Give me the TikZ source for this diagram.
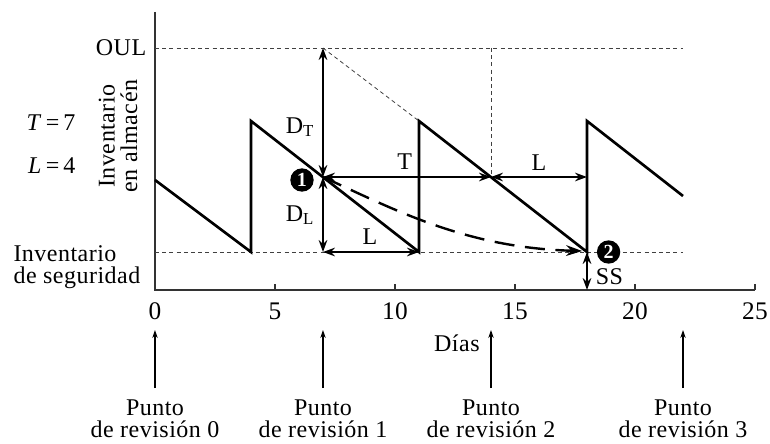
\documentclass[tikz,border=0pt]{standalone}
\usepackage{fontspec}
\setmainfont{Liberation Serif}[LetterSpace=2]
\usetikzlibrary{arrows.meta, positioning}

\begin{document}
\begin{tikzpicture}[
  x=18pt, y=0.75pt,
  font=\fontsize{18}{16.8}\selectfont,
  stock/.style ={line width=2pt, line join=miter},
  guide/.style ={line width=0.6pt, dash pattern=on 3pt off 2.4pt, black!75},
  dim/.style   ={{Stealth[length=9pt,width=6.5pt]}-{Stealth[length=9pt,width=6.5pt]}, line width=1.1pt},
  flow/.style  ={-{Stealth[length=12pt,width=8pt]}, line width=1.8pt, dash pattern=on 15pt off 8pt},
  review/.style={-{Stealth[length=6pt,width=4pt]}, line width=0.8pt},
  badge/.style ={circle, fill=black, text=white, inner sep=0pt, minimum size=17.5pt,
                 font=\bfseries\fontsize{15}{15}\selectfont},
  lbl/.style   ={inner sep=1pt},
]
  \useasboundingbox (-6.458,-153) rectangle (25.625,290);

  % axes
  \coordinate (o)    at (0,0);
  \coordinate (ytop) at (0,278);
  \coordinate (xend) at (25,0);
  \draw[line width=1pt, black!80] (ytop) -- (o) -- (xend);
  \foreach \t in {0,5,...,25}{
    \draw[line width=0.8pt, black!80] (\t,0) -- (\t,6);
    \node[lbl, font=\fontsize{19}{19}\selectfont] (tick\t) at (\t,-21) {\t};
  }
  \node[lbl] (dias) at (12.58,-53) {Días};

  % key points
  \coordinate (oul0) at (0,242);
  \coordinate (oul7) at (7,242);
  \coordinate (oul14) at (14,242);
  \coordinate (oul22) at (22,242);
  \coordinate (ss0)  at (0,38);
  \coordinate (ss7)  at (7,38);
  \coordinate (ss11) at (11,38);
  \coordinate (ss18) at (18,38);
  \coordinate (ss22) at (22,38);
  \coordinate (top11) at (11,169);
  \coordinate (p1)   at (7,113);
  \coordinate (p14)  at (14,113);
  \coordinate (p18)  at (18,113);
  \coordinate (ax18) at (18,0);
  \coordinate (tip)  at (17.8,39);

  % guide lines
  \draw[guide] (oul0) -- (oul22);
  \draw[guide] (ss0) -- (ss22);
  \draw[guide] (oul7) -- (top11);
  \draw[guide] (oul14) -- (p14);

  % inventory on hand
  \draw[stock] (0,110) -- (4,38) -- (4,169) -- (11,38) -- (11,169) -- (18,38) -- (18,169) -- (22,94);

  % dimensions
  \draw[dim] (oul7) -- (p1);
  \draw[dim] (p1) -- (ss7);
  \draw[dim] (ss7) -- (ss11);
  \draw[dim] (p1) -- (p14);
  \draw[dim] (p14) -- (p18);
  \draw[dim] (ss18) -- (ax18);
  \draw[flow] (p1) .. controls (10,80) and (13,42) .. (tip);

  \node[lbl] (dt)  at (6.04,163) {D\textsubscript{T}};
  \node[lbl] (dl)  at (6.04,75)  {D\textsubscript{L}};
  \node[lbl] (lt)  at (10.4,128) {T};
  \node[lbl] (ll)  at (16.0,127) {L};
  \node[lbl] (lb)  at (8.96,53)  {L};
  \node[lbl, anchor=west] (ss) at (18.3,13) {SS};

  \node[badge] (b1) at (6.125,110) {1};
  \node[badge] (b2) at (18.9,38)   {2};

  % left labels
  \node[lbl, anchor=east] (oul) at (-0.3,242) {OUL};
  \node[lbl, anchor=east] (tval) at (-3.25,167) {\textit{T}\,=\,7};
  \node[lbl, anchor=east] (lval) at (-3.25,124) {\textit{L}\,=\,4};
  \node[lbl, rotate=90, align=center] (yl) at (-1.54,154) {Inventario\\en almacén};
  \node[lbl, anchor=west, align=left] (sslbl) at (-5.96,23) {Inventario\\de seguridad};

  % review points
  \foreach \k/\d in {0/0,1/7,2/14,3/22}{
    \coordinate (rb\k) at (\d,-98);
    \coordinate (rt\k) at (\d,-40);
    \draw[review] (rb\k) -- (rt\k);
    \node[lbl, align=center] (rev\k) at (\d,-129) {Punto\\de revisión \k};
  }
\end{tikzpicture}
\end{document}
